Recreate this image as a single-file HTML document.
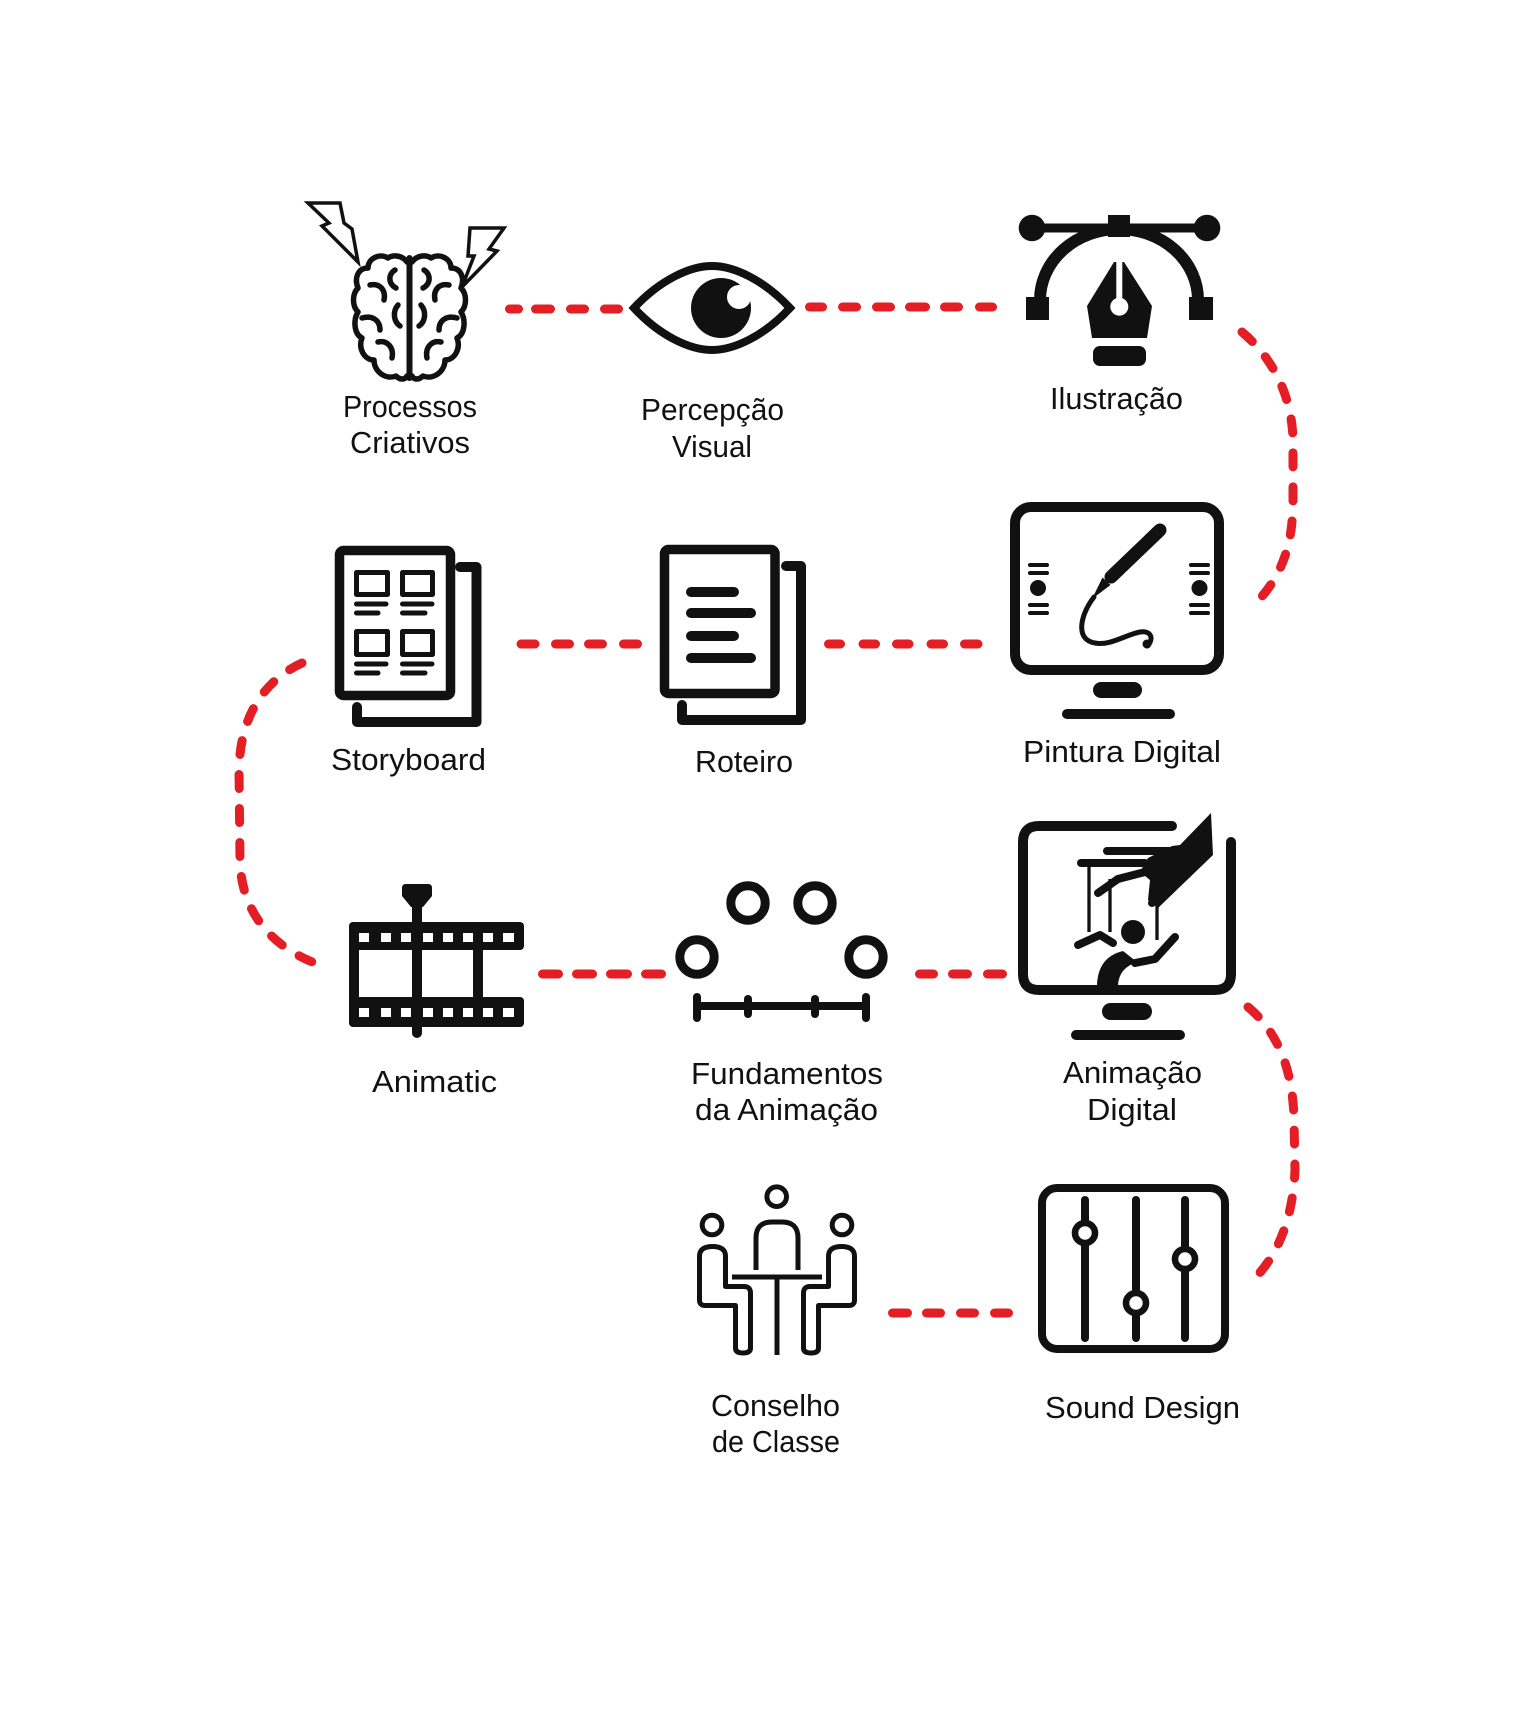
<!DOCTYPE html>
<html><head><meta charset="utf-8"><style>
html,body{margin:0;padding:0;background:#fff;}
svg{display:block;}
text{font-family:"Liberation Sans",sans-serif;font-size:31px;fill:#111;}
</style></head><body>
<svg width="1517" height="1714" viewBox="0 0 1517 1714" xmlns="http://www.w3.org/2000/svg">
<rect width="1517" height="1714" fill="#fff"/>

<!-- ===== Connectors ===== -->
<g stroke="#e31e25" stroke-width="9" stroke-linecap="round" fill="none">
  <!-- brain - eye -->
  <line x1="509.5" y1="309" x2="518.5" y2="309"/>
  <line x1="535.5" y1="309" x2="550.5" y2="309"/>
  <line x1="570.5" y1="309" x2="584.5" y2="309"/>
  <line x1="604.5" y1="309" x2="618.5" y2="309"/>
  <!-- eye - ilustracao -->
  <line x1="809.5" y1="307" x2="822.5" y2="307"/>
  <line x1="842.5" y1="307" x2="856.5" y2="307"/>
  <line x1="876.5" y1="307" x2="890.5" y2="307"/>
  <line x1="909.5" y1="307" x2="925.5" y2="307"/>
  <line x1="944.5" y1="307" x2="958.5" y2="307"/>
  <line x1="979.5" y1="307" x2="992.5" y2="307"/>
  <!-- storyboard - roteiro -->
  <line x1="521" y1="644" x2="535" y2="644"/>
  <line x1="555.5" y1="644" x2="569.5" y2="644"/>
  <line x1="588.5" y1="644" x2="602.5" y2="644"/>
  <line x1="623.5" y1="644" x2="637.5" y2="644"/>
  <!-- roteiro - pintura -->
  <line x1="828.5" y1="644" x2="840.5" y2="644"/>
  <line x1="863" y1="644" x2="875.5" y2="644"/>
  <line x1="896.5" y1="644" x2="909" y2="644"/>
  <line x1="931" y1="644" x2="943.5" y2="644"/>
  <line x1="964.5" y1="644" x2="978" y2="644"/>
  <!-- animatic - fundamentos -->
  <line x1="542.5" y1="974" x2="558.5" y2="974"/>
  <line x1="576.5" y1="974" x2="592.5" y2="974"/>
  <line x1="610.5" y1="974" x2="627.5" y2="974"/>
  <line x1="645.5" y1="974" x2="661.5" y2="974"/>
  <!-- fundamentos - animacao digital -->
  <line x1="919.5" y1="974" x2="933.5" y2="974"/>
  <line x1="952.5" y1="974" x2="967.5" y2="974"/>
  <line x1="987.5" y1="974" x2="1002.5" y2="974"/>
  <!-- conselho - sound -->
  <line x1="892.5" y1="1313" x2="907.5" y2="1313"/>
  <line x1="926.5" y1="1313" x2="940.5" y2="1313"/>
  <line x1="960.5" y1="1313" x2="974.5" y2="1313"/>
  <line x1="994.5" y1="1313" x2="1008.5" y2="1313"/>
</g>
<g stroke="#e31e25" stroke-width="9" stroke-linecap="round" fill="none" stroke-dasharray="14 20">
  <path d="M1242,332 C1272,357 1292,395 1293,440 L1293,500 C1293,545 1282,575 1257,602"/>
  <path d="M302,663 C265,680 240,715 239,770 L240,860 C241,915 275,950 323,966"/>
  <path d="M1248,1007 C1278,1032 1293,1070 1294,1120 L1295,1170 C1293,1215 1280,1255 1250,1283"/>
</g>

<!-- ===== Brain + bolts ===== -->
<g fill="#fff" stroke="#111" stroke-width="3.5" stroke-linejoin="miter">
  <polygon points="308,203 340,203 344,223 352,229 358,262 322,226 329,223"/>
  <polygon points="470,228 504,228 489,249 497,251 462,287 474,256 468,256"/>
</g>
<g fill="none" stroke="#111" stroke-width="5.5" stroke-linecap="round" stroke-linejoin="round">
  <g id="hemi">
    <path d="M407,262 C403,256 394,254 388,258 C380,253 368,258 368,268 C358,268 354,278 358,288 C352,294 352,306 358,312 C353,320 354,334 362,338 C358,348 364,360 374,360 C374,372 386,380 396,376 C400,380 405,380 407,376"/>
    <path d="M395,270 C388,274 388,284 396,288"/>
    <path d="M370,285 C380,283 386,290 384,300"/>
    <path d="M362,318 C372,315 380,320 380,330"/>
    <path d="M398,305 C392,312 394,322 400,326"/>
    <path d="M378,342 C388,340 394,348 392,358"/>
  </g>
  <use href="#hemi" transform="translate(819,0) scale(-1,1)"/>
  <line x1="409.5" y1="258" x2="409.5" y2="378" stroke-width="6"/>
</g>

<!-- ===== Eye ===== -->
<path d="M634,308 C660,280 690,266 712,266 C734,266 764,280 790,308 C764,336 734,350 712,350 C690,350 660,336 634,308 Z" fill="none" stroke="#111" stroke-width="8" stroke-linejoin="miter"/>
<circle cx="721" cy="308" r="30" fill="#111"/>
<circle cx="739" cy="297" r="12" fill="#fff"/>

<!-- ===== Pen tool (Ilustracao) ===== -->
<g fill="#111">
  <line x1="1032" y1="228" x2="1207" y2="228" stroke="#111" stroke-width="9"/>
  <circle cx="1032" cy="228" r="13.3"/>
  <circle cx="1207" cy="228" r="13.3"/>
  <path d="M1040,300 A79,71 0 0 1 1198,300" fill="none" stroke="#111" stroke-width="12"/>
  <rect x="1108" y="215" width="22" height="22"/>
  <rect x="1026" y="297" width="23" height="23"/>
  <rect x="1189" y="297" width="24" height="23"/>
  <path d="M1114,262 L1124,262 L1152,306 L1147,338 L1092,338 L1087,306 Z"/>
  <line x1="1119.3" y1="258" x2="1119.3" y2="302" stroke="#fff" stroke-width="6"/>
  <circle cx="1119.3" cy="306.7" r="9" fill="#fff"/>
  <rect x="1093" y="346" width="53" height="20" rx="7"/>
</g>

<!-- ===== Storyboard ===== -->
<g fill="none" stroke="#111" stroke-linejoin="round" stroke-linecap="round">
  <rect x="339.5" y="550.5" width="111" height="145" rx="4" stroke-width="9.5"/>
  <path d="M460,567 L476.5,567 L476.5,722 L357,722 L357,707" stroke-width="10"/>
  <g stroke-width="5" stroke-linecap="butt">
    <rect x="356.5" y="572.5" width="31" height="22"/>
    <rect x="402.5" y="572.5" width="30" height="22"/>
    <rect x="356.5" y="631.5" width="31" height="23"/>
    <rect x="402.5" y="631.5" width="30" height="23"/>
  </g>
  <g stroke-width="5">
    <line x1="356.5" y1="604" x2="386" y2="604"/>
    <line x1="356.5" y1="613" x2="378" y2="613"/>
    <line x1="402.5" y1="604" x2="432" y2="604"/>
    <line x1="402.5" y1="613" x2="425" y2="613"/>
    <line x1="356.5" y1="664" x2="386" y2="664"/>
    <line x1="356.5" y1="673" x2="378" y2="673"/>
    <line x1="402.5" y1="664" x2="432" y2="664"/>
    <line x1="402.5" y1="673" x2="425" y2="673"/>
  </g>
</g>

<!-- ===== Roteiro ===== -->
<g fill="none" stroke="#111" stroke-linejoin="round" stroke-linecap="round">
  <rect x="664.5" y="549.5" width="110.5" height="144" rx="4" stroke-width="9.5"/>
  <path d="M786,566 L801,566 L801,720 L682,720 L682,705" stroke-width="10"/>
  <g stroke-width="10">
    <line x1="691" y1="592" x2="734" y2="592"/>
    <line x1="691" y1="613" x2="751" y2="613"/>
    <line x1="691" y1="636" x2="734" y2="636"/>
    <line x1="691" y1="658" x2="751" y2="658"/>
  </g>
</g>

<!-- ===== Pintura Digital ===== -->
<g>
  <rect x="1015" y="507" width="204" height="163" rx="16" fill="none" stroke="#111" stroke-width="10"/>
  <rect x="1093" y="682" width="49" height="16" rx="8" fill="#111"/>
  <rect x="1062" y="709" width="113" height="10" rx="5" fill="#111"/>
  <g stroke="#111" stroke-width="4" stroke-linecap="round">
    <line x1="1030" y1="565" x2="1047" y2="565"/><line x1="1030" y1="573" x2="1047" y2="573"/>
    <line x1="1030" y1="605" x2="1047" y2="605"/><line x1="1030" y1="613" x2="1047" y2="613"/>
    <line x1="1191" y1="565" x2="1208" y2="565"/><line x1="1191" y1="573" x2="1208" y2="573"/>
    <line x1="1191" y1="605" x2="1208" y2="605"/><line x1="1191" y1="613" x2="1208" y2="613"/>
  </g>
  <circle cx="1038" cy="588" r="8" fill="#111"/>
  <circle cx="1199.5" cy="588" r="8" fill="#111"/>
  <line x1="1160" y1="530" x2="1111" y2="577" stroke="#111" stroke-width="13" stroke-linecap="round"/>
  <line x1="1160" y1="530" x2="1111" y2="577" stroke="#111" stroke-width="13" stroke-linecap="butt"/>
  <polygon points="1102.5,577.5 1110.5,585 1092,599" fill="#111"/>
  <path d="M1094,597 C1080,615 1075,640 1095,643 C1110,646 1125,635 1140,632 C1152,630 1154,640 1147,646" fill="none" stroke="#111" stroke-width="5" stroke-linecap="round"/>
  <circle cx="1147" cy="644" r="4.5" fill="#111"/>
</g>

<!-- ===== Animatic ===== -->
<g fill="#111">
  <rect x="349" y="922" width="175" height="28" rx="4"/>
  <rect x="349" y="997" width="175" height="30" rx="4"/>
  <rect x="349" y="945" width="10" height="57"/>
  <rect x="473" y="945" width="10" height="57"/>
  <line x1="417" y1="905" x2="417" y2="1033" stroke="#111" stroke-width="10" stroke-linecap="round"/>
  <path d="M406,884 L428,884 Q432,884 432,888 L432,896 L423,907 L411,907 L402,896 L402,888 Q402,884 406,884 Z"/>
  <g fill="#fff">
    <rect x="359" y="933" width="10" height="9"/><rect x="381" y="933" width="10" height="9"/>
    <rect x="401" y="933" width="10" height="9"/><rect x="423" y="933" width="10" height="9"/>
    <rect x="443" y="933" width="10" height="9"/><rect x="463" y="933" width="10" height="9"/>
    <rect x="483" y="933" width="10" height="9"/><rect x="503" y="933" width="11" height="9"/>
    <rect x="359" y="1008" width="10" height="9"/><rect x="381" y="1008" width="10" height="9"/>
    <rect x="401" y="1008" width="10" height="9"/><rect x="423" y="1008" width="10" height="9"/>
    <rect x="443" y="1008" width="10" height="9"/><rect x="463" y="1008" width="10" height="9"/>
    <rect x="483" y="1008" width="10" height="9"/><rect x="503" y="1008" width="11" height="9"/>
  </g>
</g>

<!-- ===== Fundamentos ===== -->
<g fill="none" stroke="#111" stroke-width="9" stroke-linecap="round">
  <circle cx="748" cy="903" r="17.2"/>
  <circle cx="815" cy="903" r="17.2"/>
  <circle cx="697" cy="957" r="17.2"/>
  <circle cx="866" cy="957" r="17.2"/>
  <line x1="697" y1="1006" x2="866" y2="1006" stroke-width="8" stroke-linecap="butt"/>
  <line x1="697" y1="997" x2="697" y2="1018" stroke-width="8"/>
  <line x1="866" y1="997" x2="866" y2="1018" stroke-width="8"/>
  <line x1="748" y1="999" x2="748" y2="1014" stroke-width="8"/>
  <line x1="815" y1="999" x2="815" y2="1014" stroke-width="8"/>
</g>

<!-- ===== Animacao Digital ===== -->
<g>
  <path d="M1172,826 L1039,826 Q1023,826 1023,842 L1023,974 Q1023,990 1039,990 L1215,990 Q1231,990 1231,974 L1231,842" fill="none" stroke="#111" stroke-width="10" stroke-linecap="round"/>
  <rect x="1102" y="1003" width="50" height="17" rx="8.5" fill="#111"/>
  <rect x="1071" y="1030" width="114" height="10" rx="5" fill="#111"/>
  <polygon points="1211,813 1213,855 1158,908 1148,900 1150,880 1140,872 1148,858 1172,846 1180,845" fill="#111"/>
  <g stroke="#111" stroke-width="8" stroke-linecap="round" fill="none">
    <line x1="1107" y1="851" x2="1178" y2="851"/>
    <line x1="1081" y1="863" x2="1145" y2="863"/>
    <polyline points="1098,893 1118,879 1145,872"/>
    <line x1="1152" y1="903" x2="1176" y2="880"/>
  </g>
  <g stroke="#111" stroke-width="3.3">
    <line x1="1089" y1="863" x2="1089" y2="932"/>
    <line x1="1110" y1="879" x2="1110" y2="932"/>
    <line x1="1157" y1="906" x2="1157" y2="940"/>
  </g>
  <circle cx="1133" cy="932" r="12" fill="#111"/>
  <g stroke="#111" stroke-width="8" stroke-linecap="round" stroke-linejoin="round" fill="none">
    <polyline points="1078,945 1100,935 1113,943"/>
    <polyline points="1175,937 1155,959 1135,963"/>
  </g>
  <path d="M1123,951 L1137,962 Q1119,968 1118,985 L1097,985 Q1098,957 1123,951 Z" fill="#111"/>
</g>

<!-- ===== Conselho ===== -->
<g fill="none" stroke="#111" stroke-width="5" stroke-linejoin="round">
  <circle cx="776.7" cy="1196.7" r="9.8"/>
  <path d="M756,1270 L756,1238 Q756,1222 772,1222 L782,1222 Q798,1222 798,1238 L798,1270"/>
  <line x1="732" y1="1277" x2="822" y2="1277"/>
  <line x1="777" y1="1277" x2="777" y2="1355"/>
  <g id="seat">
    <circle cx="712" cy="1225" r="9.8"/>
    <path d="M725.5,1286.5 L725.5,1256 Q725.5,1246.5 712.5,1246.5 Q699.5,1246.5 699.5,1256 L699.5,1300 Q699.5,1305.5 705,1305.5 L735.5,1305.5 L735.5,1348 Q735.5,1353 743,1353 Q750.5,1353 750.5,1348 L750.5,1293 Q750.5,1286.5 744,1286.5 Z"/>
  </g>
  <use href="#seat" transform="translate(1554,0) scale(-1,1)"/>
</g>

<!-- ===== Sound Design ===== -->
<g>
  <rect x="1042" y="1188" width="183" height="161" rx="15" fill="none" stroke="#111" stroke-width="8"/>
  <g stroke="#111" stroke-width="8" stroke-linecap="round">
    <line x1="1085" y1="1200" x2="1085" y2="1338"/>
    <line x1="1136" y1="1200" x2="1136" y2="1338"/>
    <line x1="1185" y1="1200" x2="1185" y2="1338"/>
  </g>
  <g fill="#fff" stroke="#111" stroke-width="6.6">
    <circle cx="1085" cy="1233" r="10"/>
    <circle cx="1136" cy="1303" r="10"/>
    <circle cx="1185" cy="1259" r="10"/>
  </g>
</g>

<!-- ===== Labels ===== -->
<text x="343" y="417" textLength="134" lengthAdjust="spacingAndGlyphs">Processos</text>
<text x="350" y="453" textLength="120" lengthAdjust="spacingAndGlyphs">Criativos</text>
<text x="641" y="420" textLength="143" lengthAdjust="spacingAndGlyphs">Percepção</text>
<text x="672" y="457" textLength="80" lengthAdjust="spacingAndGlyphs">Visual</text>
<text x="1050" y="409" textLength="133" lengthAdjust="spacingAndGlyphs">Ilustração</text>
<text x="331" y="770" textLength="155" lengthAdjust="spacingAndGlyphs">Storyboard</text>
<text x="695" y="772" textLength="98" lengthAdjust="spacingAndGlyphs">Roteiro</text>
<text x="1023" y="762" textLength="198" lengthAdjust="spacingAndGlyphs">Pintura Digital</text>
<text x="372" y="1092" textLength="125" lengthAdjust="spacingAndGlyphs">Animatic</text>
<text x="691" y="1084" textLength="192" lengthAdjust="spacingAndGlyphs">Fundamentos</text>
<text x="695" y="1120" textLength="183" lengthAdjust="spacingAndGlyphs">da Animação</text>
<text x="1063" y="1083" textLength="139" lengthAdjust="spacingAndGlyphs">Animação</text>
<text x="1087" y="1120" textLength="90" lengthAdjust="spacingAndGlyphs">Digital</text>
<text x="711" y="1416" textLength="129" lengthAdjust="spacingAndGlyphs">Conselho</text>
<text x="712" y="1452" textLength="128" lengthAdjust="spacingAndGlyphs">de Classe</text>
<text x="1045" y="1418" textLength="195" lengthAdjust="spacingAndGlyphs">Sound Design</text>
</svg>
</body></html>
